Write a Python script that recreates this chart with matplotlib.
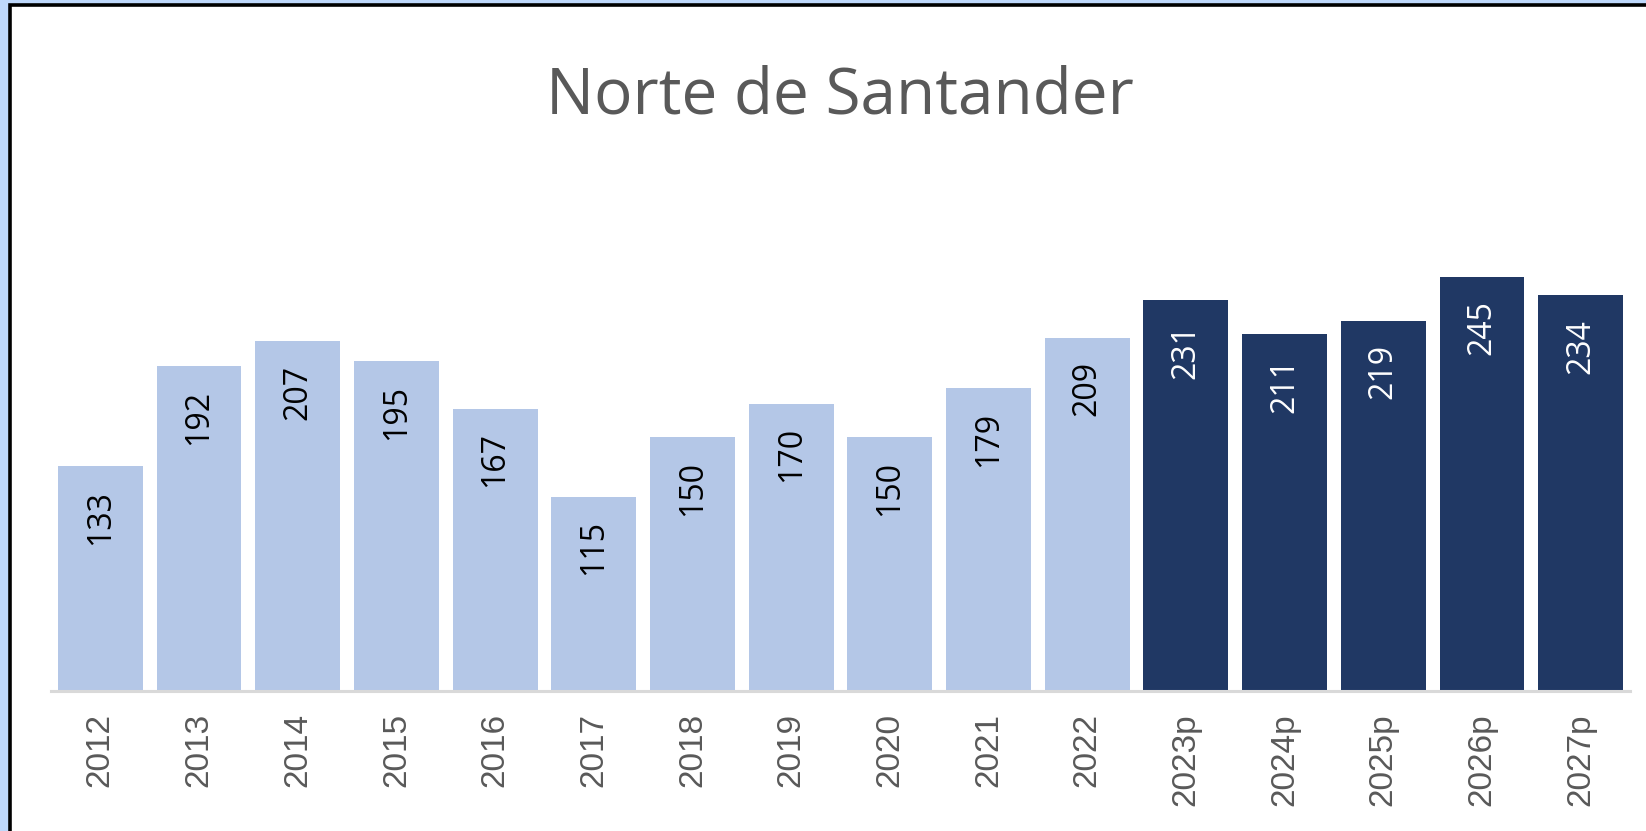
import matplotlib
matplotlib.use('Agg')
import matplotlib.pyplot as plt
from matplotlib.patches import Rectangle

years = ['2012', '2013', '2014', '2015', '2016', '2017', '2018', '2019',
         '2020', '2021', '2022', '2023p', '2024p', '2025p', '2026p', '2027p']
values = [133, 192, 207, 195, 167, 115, 150, 170, 150, 179, 209,
          231, 211, 219, 245, 234]
n_hist = 11  # first 11 years are actual, rest projected

light = '#b4c7e7'
dark = '#203864'
W, H = 1646, 831

fig = plt.figure(figsize=(W / 100, H / 100), dpi=100)
fig.patch.set_facecolor('#bed8fb')

# white panel with black frame (runs off right and bottom edges)
fig.patches.append(Rectangle((9.5 / W, -0.1), 1.2, 1.1 - 5.5 / H,
                             transform=fig.transFigure, facecolor='white',
                             edgecolor='black', linewidth=2.6, zorder=-5))

ax = fig.add_axes([51 / W, (H - 691) / H, 1579 / W, 541 / H])
ax.set_facecolor('none')
ax.set_zorder(2)

colors = [light if i < n_hist else dark for i in range(len(values))]
x = range(len(values))
bars = ax.bar(x, values, width=0.86, color=colors, zorder=2)

for i, (b, v) in enumerate(zip(bars, values)):
    ax.annotate(str(v), (b.get_x() + b.get_width() / 2, v),
                xytext=(0, -17), textcoords='offset points',
                ha='center', va='top', rotation=90,
                fontsize=23, family='Open Sans',
                color='black' if i < n_hist else 'white')

ax.set_xlim(-0.5, len(values) - 0.5)
ax.set_ylim(0, 320)
ax.set_xticks(list(x))
ax.set_xticklabels(years, rotation=90, fontsize=24, family='Liberation Sans',
                   color='#595959')
ax.tick_params(axis='x', length=0, pad=16)
ax.set_yticks([])
for s in ['top', 'right', 'left']:
    ax.spines[s].set_visible(False)
ax.spines['bottom'].set_color('#d9d9d9')
ax.spines['bottom'].set_linewidth(2.2)

fig.text(840 / W, 1 - 113 / H, 'Norte de Santander', ha='center',
         va='baseline', fontsize=46, family='Open Sans', color='#595959',
         zorder=3)

fig.savefig('out.png', dpi=100, facecolor=fig.get_facecolor())
